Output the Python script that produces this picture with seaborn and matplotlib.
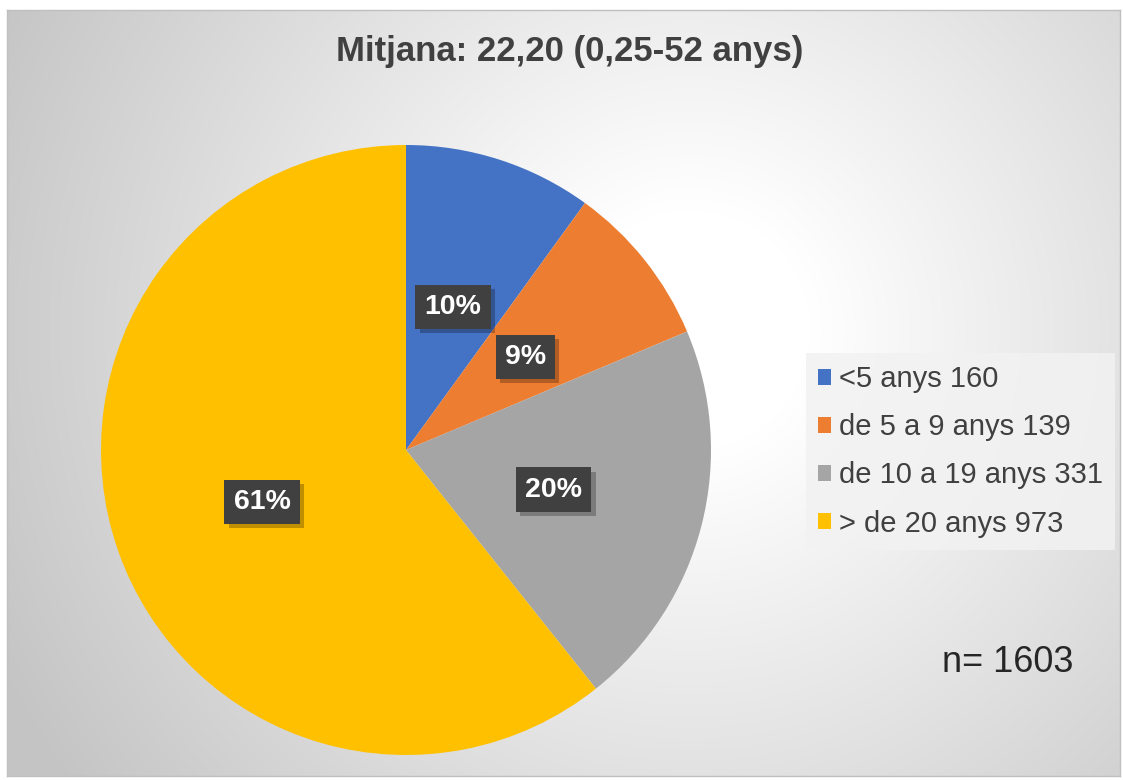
import numpy as np
import matplotlib
matplotlib.use('Agg')
import matplotlib.pyplot as plt
import matplotlib.patheffects as pe
import seaborn as sns

# Data
categories = ['<5 anys', 'de 5 a 9 anys', 'de 10 a 19 anys', '> de 20 anys']
counts = [160, 139, 331, 973]
pct_labels = ['10%', '9%', '20%', '61%']
title = 'Mitjana: 22,20 (0,25-52 anys)'
n_total = 1603

colors = sns.color_palette(['#4472C4', '#ED7D31', '#A5A5A5', '#FFC000'])

sns.set_theme(style='white')
plt.rcParams['font.family'] = ['Liberation Sans', 'DejaVu Sans']

W, H = 1123, 780
fig = plt.figure(figsize=(W / 100, H / 100), dpi=100)
fig.patch.set_facecolor('white')

# Background: chart area with radial grey gradient
fx0, fy0, fx1, fy1 = 7, 10, 1120, 776
bg = fig.add_axes([fx0 / W, 1 - fy1 / H, (fx1 - fx0) / W, (fy1 - fy0) / H])
yy, xx = np.mgrid[fy0:fy1, fx0:fx1]
d = np.hypot(xx - 690, yy - 330)
shade = 1 - 0.23 * np.clip((d - 120) / 650, 0, 1)
bg.imshow(np.dstack([shade] * 3), aspect='auto', interpolation='bilinear')
bg.set_xticks([])
bg.set_yticks([])
for s in bg.spines.values():
    s.set_color('#bfbfbf')
    s.set_linewidth(1)

# Pie
cx, cy, r = 406, 450, 305
ax = fig.add_axes([(cx - r) / W, 1 - (cy + r) / H, 2 * r / W, 2 * r / H])
ax.set_facecolor('none')
wedges, _ = ax.pie(counts, colors=colors, startangle=90, counterclock=False,
                   radius=1, wedgeprops=dict(linewidth=0))
ax.set_xlim(-1, 1)
ax.set_ylim(-1, 1)
ax.set_aspect('equal')
ax.axis('off')

# Percentage labels in dark boxes
total = sum(counts)
cum = 0
for val, lab in zip(counts, pct_labels):
    mid = 90 - 360 * (cum + val / 2) / total
    cum += val
    x = 0.5 * np.cos(np.radians(mid))
    y = 0.5 * np.sin(np.radians(mid)) - 0.006
    t = ax.text(x, y, lab, ha='center', va='center', color='white',
                fontsize=20.5, fontweight='bold',
                bbox=dict(boxstyle='square,pad=0.32', facecolor='#404040',
                          edgecolor='none'))
    t.get_bbox_patch().set_path_effects([
        pe.SimplePatchShadow(offset=(3, -3), shadow_rgbFace='black', alpha=0.25),
        pe.Normal()])

# Title
fig.text(570 / W, 1 - 51 / H, title, ha='center', va='center',
         fontsize=25, fontweight='bold', color='#404040')

# Legend
leg_labels = [f'{c} {v}' for c, v in zip(categories, counts)]
leg = fig.legend(wedges, leg_labels, loc='upper left',
                 bbox_to_anchor=(806 / W, 1 - 353 / H), borderaxespad=0,
                 fontsize=21, frameon=True, fancybox=False,
                 facecolor='#f2f2f2', edgecolor='none', framealpha=0.85,
                 handlelength=0.45, handleheight=0.45, handletextpad=0.25,
                 labelspacing=0.69, borderpad=0.42)
for txt in leg.get_texts():
    txt.set_color('#404040')

# n annotation
fig.text(1008 / W, 1 - 662 / H, f'n= {n_total}', ha='center', va='center',
         fontsize=26, color='#262626')

fig.savefig('out.png', dpi=100)
